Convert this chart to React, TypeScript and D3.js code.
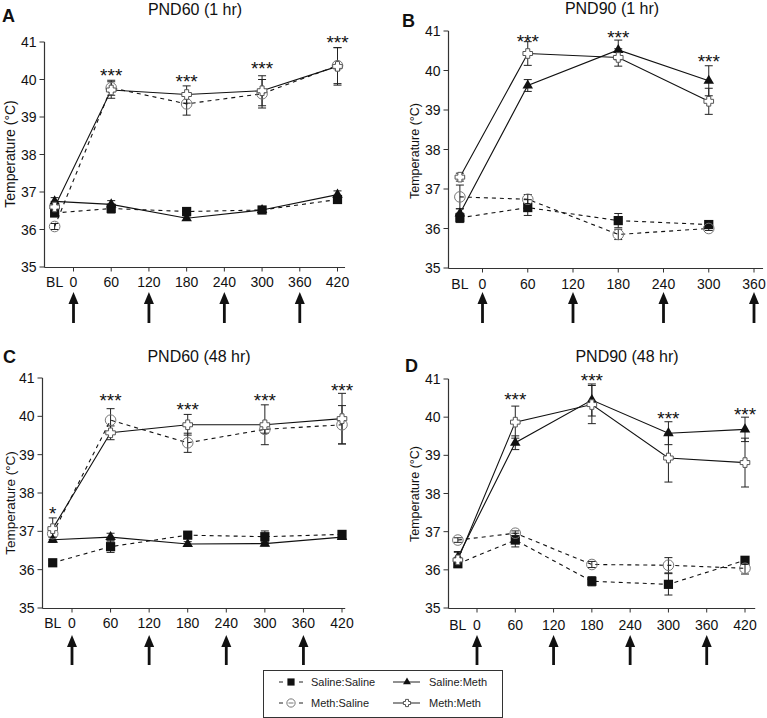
import React from 'react';
import * as d3 from 'd3';

// ---------- DATA ----------
const GROUPS = ['Saline:Saline', 'Saline:Meth', 'Meth:Saline', 'Meth:Meth'];
// time -30 stands for baseline (BL)
const TIMES_7 = [-30, 60, 180, 300, 420];
const TIMES_5 = [-30, 60, 180, 300];
const X_TICKS_420 = [0, 60, 120, 180, 240, 300, 360, 420];
const X_TICKS_360 = [0, 60, 120, 180, 240, 300, 360];
const Y_TICKS = [35, 36, 37, 38, 39, 40, 41];
const INJECTIONS = [0, 120, 240, 360];

// Panel A: PND60 (1 hr)
const A_SS = [36.44, 36.56, 36.48, 36.52, 36.8];
const A_SS_ERR = [0.08, 0.12, 0.06, 0.05, 0.08];
const A_SM = [36.75, 36.67, 36.3, 36.52, 36.93];
const A_SM_ERR = [0.1, 0.1, 0.06, 0.05, 0.1];
const A_MS = [36.08, 39.78, 39.35, 39.62, 40.37];
const A_MS_ERR = [0.08, 0.2, 0.3, 0.38, 0.48];
const A_MM = [36.6, 39.72, 39.6, 39.7, 40.35];
const A_MM_ERR = [0.15, 0.22, 0.23, 0.4, 0.5];
const A_STAR_T = [60, 180, 300, 420];
const A_STAR_V = [40.23, 40.07, 40.41, 41.1];
const A_STAR_L = ['***', '***', '***', '***'];

// Panel B: PND90 (1 hr)
const B_SS = [36.27, 36.53, 36.2, 36.1];
const B_SS_ERR = [0.12, 0.2, 0.18, 0.06];
const B_SM = [36.38, 39.62, 40.52, 39.74];
const B_SM_ERR = [0.12, 0.15, 0.25, 0.38];
const B_MS = [36.8, 36.74, 35.85, 36.0];
const B_MS_ERR = [0.3, 0.12, 0.13, 0.05];
const B_MM = [37.3, 40.43, 40.33, 39.22];
const B_MM_ERR = [0.1, 0.3, 0.22, 0.33];
const B_STAR_T = [60, 180, 300];
const B_STAR_V = [40.85, 40.95, 40.34];
const B_STAR_L = ['***', '***', '***'];

// Panel C: PND60 (48 hr)
const C_SS = [36.18, 36.6, 36.9, 36.86, 36.92];
const C_SS_ERR = [0.06, 0.15, 0.08, 0.15, 0.08];
const C_SM = [36.78, 36.85, 36.67, 36.68, 36.85];
const C_SM_ERR = [0.07, 0.1, 0.06, 0.06, 0.06];
const C_MS = [36.94, 39.9, 39.31, 39.66, 39.78];
const C_MS_ERR = [0.1, 0.3, 0.25, 0.1, 0.5];
const C_MM = [37.07, 39.57, 39.78, 39.78, 39.94];
const C_MM_ERR = [0.28, 0.18, 0.27, 0.52, 0.66];
const C_STAR_T = [-30, 60, 180, 300, 420];
const C_STAR_V = [37.59, 40.52, 40.3, 40.52, 40.8];
const C_STAR_L = ['*', '***', '***', '***', '***'];

// Panel D: PND90 (48 hr)
const D_SS = [36.16, 36.78, 35.7, 35.62, 36.25];
const D_SS_ERR = [0.08, 0.18, 0.12, 0.28, 0.08];
const D_SM = [36.33, 39.33, 40.45, 39.58, 39.68];
const D_SM_ERR = [0.15, 0.18, 0.42, 0.3, 0.32];
const D_MS = [36.78, 36.96, 36.14, 36.12, 36.04];
const D_MS_ERR = [0.06, 0.06, 0.08, 0.2, 0.15];
const D_MM = [36.26, 39.87, 40.33, 38.93, 38.81];
const D_MM_ERR = [0.2, 0.42, 0.5, 0.63, 0.64];
const D_STAR_T = [60, 180, 300, 420];
const D_STAR_V = [40.57, 41.09, 40.07, 40.2];
const D_STAR_L = ['***', '***', '***', '***'];

// ---------- STYLE ----------
const FONT = '"Liberation Sans", Arial, Helvetica, sans-serif';
const GROUP_STYLE = [
  { marker: 'square', dashed: true },
  { marker: 'triangle', dashed: false },
  { marker: 'circle', dashed: true },
  { marker: 'cross', dashed: false },
];

const panels = [
  {
    letter: 'A', title: 'PND60 (1 hr)', times: TIMES_7,
    series: [[A_SS, A_SS_ERR], [A_SM, A_SM_ERR], [A_MS, A_MS_ERR], [A_MM, A_MM_ERR]],
    stars: [A_STAR_T, A_STAR_V, A_STAR_L], xTicks: X_TICKS_420,
    L: { xd: [0, 420], xr: [73.5, 337.5], yr: [267, 42], axisX: 44.5, axisEnd: 432,
      arrowTop: 292, arrowBot: 323, title: [195, 15], letterPos: [2, 22],
      ylab: [15, 154, 14], xlabY: 287 },
  },
  {
    letter: 'B', title: 'PND90 (1 hr)', times: TIMES_5,
    series: [[B_SS, B_SS_ERR], [B_SM, B_SM_ERR], [B_MS, B_MS_ERR], [B_MM, B_MM_ERR]],
    stars: [B_STAR_T, B_STAR_V, B_STAR_L], xTicks: X_TICKS_360,
    L: { xd: [0, 360], xr: [482.5, 754], yr: [268, 31], axisX: 448.5, axisEnd: 372,
      arrowTop: 292, arrowBot: 323, title: [612, 14], letterPos: [402, 27],
      ylab: [419, 151, 12.5], xlabY: 289 },
  },
  {
    letter: 'C', title: 'PND60 (48 hr)', times: TIMES_7,
    series: [[C_SS, C_SS_ERR], [C_SM, C_SM_ERR], [C_MS, C_MS_ERR], [C_MM, C_MM_ERR]],
    stars: [C_STAR_T, C_STAR_V, C_STAR_L], xTicks: X_TICKS_420,
    L: { xd: [0, 420], xr: [72, 342], yr: [608, 378], axisX: 42.5, axisEnd: 425,
      arrowTop: 635, arrowBot: 665, title: [199, 362], letterPos: [3, 363],
      ylab: [15, 503, 13.5], xlabY: 628 },
  },
  {
    letter: 'D', title: 'PND90 (48 hr)', times: TIMES_7,
    series: [[D_SS, D_SS_ERR], [D_SM, D_SM_ERR], [D_MS, D_MS_ERR], [D_MM, D_MM_ERR]],
    stars: [D_STAR_T, D_STAR_V, D_STAR_L], xTicks: X_TICKS_420,
    L: { xd: [0, 420], xr: [477, 745], yr: [608, 379], axisX: 448.5, axisEnd: 436,
      arrowTop: 635, arrowBot: 665, title: [627, 362], letterPos: [405, 372],
      ylab: [419, 494, 12.5], xlabY: 630 },
  },
];

const crossPath = (a: number, l: number) =>
  `M${-a},${-l}H${a}V${-a}H${l}V${a}H${a}V${l}H${-a}V${a}H${-l}V${-a}H${-a}Z`;

function Marker({ type, x, y, s = 1 }: { type: string; x: number; y: number; s?: number }) {
  if (type === 'square') {
    const h = 4.6 * s;
    return <rect x={x - h} y={y - h} width={2 * h} height={2 * h} fill="#111" />;
  }
  if (type === 'triangle') {
    const p = d3.symbol().type(d3.symbolTriangle).size(48 * s * s)();
    return <path d={p || ''} transform={`translate(${x},${y})`} fill="#111" />;
  }
  if (type === 'circle') {
    return <circle cx={x} cy={y} r={5.3 * s} fill="none" stroke="#777" strokeWidth={1} />;
  }
  return (
    <path d={crossPath(2 * s, 4.8 * s)} transform={`translate(${x},${y})`}
      fill="#fff" stroke="#555" strokeWidth={1} />
  );
}

function Arrow({ x, top, bot }: { x: number; top: number; bot: number }) {
  return (
    <g>
      <line x1={x} x2={x} y1={top + 8} y2={bot} stroke="#111" strokeWidth={2.8} />
      <path d={`M${x - 5},${top + 12}L${x},${top}L${x + 5},${top + 12}Z`} fill="#111" />
    </g>
  );
}

function Panel({ p }: { p: any }) {
  const L = p.L;
  const x = d3.scaleLinear().domain(L.xd).range(L.xr);
  const y = d3.scaleLinear().domain([35, 41]).range(L.yr);
  const line = d3.line<[number, number]>().x((d) => x(d[0])).y((d) => y(d[1]));
  const axisY = L.yr[0] + 0.5;
  return (
    <g fontFamily={FONT}>
      <text x={L.letterPos[0]} y={L.letterPos[1]} fontSize={18} fontWeight="bold" fill="#111">{p.letter}</text>
      <text x={L.title[0]} y={L.title[1]} fontSize={16} textAnchor="middle" fill="#111">{p.title}</text>
      <text transform={`translate(${L.ylab[0]},${L.ylab[1]}) rotate(-90)`} fontSize={L.ylab[2]}
        textAnchor="middle" fill="#111">Temperature (°C)</text>
      {/* y axis */}
      <line x1={L.axisX} x2={L.axisX} y1={y(41)} y2={axisY} stroke="#333" strokeWidth={1.2} />
      {Y_TICKS.map((t) => (
        <g key={t}>
          <line x1={L.axisX - 5} x2={L.axisX} y1={y(t)} y2={y(t)} stroke="#333" />
          <text x={L.axisX - 8} y={y(t) + 5} fontSize={14} textAnchor="end" fill="#111">{t}</text>
        </g>
      ))}
      {/* x axis */}
      <line x1={L.axisX} x2={x(L.axisEnd)} y1={axisY} y2={axisY} stroke="#333" strokeWidth={1.2} />
      {p.xTicks.map((t: number) => (
        <g key={t}>
          <line x1={x(t)} x2={x(t)} y1={axisY} y2={axisY + 4} stroke="#333" />
          <text x={x(t)} y={L.xlabY} fontSize={14} textAnchor="middle" fill="#111">{t}</text>
        </g>
      ))}
      <text x={x(-30)} y={L.xlabY} fontSize={14} textAnchor="middle" fill="#111">BL</text>
      {INJECTIONS.map((t) => <Arrow key={t} x={x(t)} top={L.arrowTop} bot={L.arrowBot} />)}
      {/* lines */}
      {p.series.map((s: number[][], gi: number) => (
        <path key={'l' + gi}
          d={line(p.times.map((t: number, i: number) => [t, s[0][i]] as [number, number])) || ''}
          fill="none" stroke="#111" strokeWidth={1.1}
          strokeDasharray={GROUP_STYLE[gi].dashed ? '4,4' : undefined} />
      ))}
      {/* error bars */}
      {p.series.map((s: number[][], gi: number) =>
        p.times.map((t: number, i: number) => {
          const cx = x(t);
          const lo = y(s[0][i] - s[1][i]);
          const hi = y(s[0][i] + s[1][i]);
          return (
            <g key={'e' + gi + '-' + i} stroke="#222" strokeWidth={1}>
              <line x1={cx} x2={cx} y1={lo} y2={hi} />
              <line x1={cx - 4} x2={cx + 4} y1={lo} y2={lo} />
              <line x1={cx - 4} x2={cx + 4} y1={hi} y2={hi} />
            </g>
          );
        })
      )}
      {/* markers */}
      {p.series.map((s: number[][], gi: number) =>
        p.times.map((t: number, i: number) => (
          <Marker key={'m' + gi + '-' + i} type={GROUP_STYLE[gi].marker} x={x(t)} y={y(s[0][i])} />
        ))
      )}
      {/* significance */}
      {p.stars[0].map((t: number, i: number) => (
        <text key={'s' + i} x={x(t)} y={y(p.stars[1][i]) + 11} fontSize={19}
          textAnchor="middle" fill="#111">{p.stars[2][i]}</text>
      ))}
    </g>
  );
}

function Legend() {
  const bx = 263, by = 670, bw = 239, bh = 47;
  const rows = [682, 703];
  return (
    <g fontFamily={FONT} fontSize={11} fill="#222">
      <rect x={bx + 0.5} y={by + 0.5} width={bw} height={bh} fill="#fff" stroke="#333" strokeWidth={1} />
      {[0, 2].map((gi, r) => (
        <g key={gi}>
          <line x1={279} x2={283} y1={rows[r]} y2={rows[r]} stroke="#222" />
          <line x1={299} x2={303} y1={rows[r]} y2={rows[r]} stroke="#222" />
          <Marker type={GROUP_STYLE[gi].marker} x={291} y={rows[r]} s={0.78} />
          {gi === 2 && <line x1={288.5} x2={293.5} y1={rows[r]} y2={rows[r]} stroke="#777" />}
          <text x={311} y={rows[r] + 4}>{GROUPS[gi]}</text>
        </g>
      ))}
      {[1, 3].map((gi, r) => (
        <g key={gi}>
          <line x1={393} x2={420} y1={rows[r]} y2={rows[r]} stroke="#222" />
          <Marker type={GROUP_STYLE[gi].marker} x={407} y={rows[r]} s={0.75} />
          <text x={429} y={rows[r] + 4}>{GROUPS[gi]}</text>
        </g>
      ))}
    </g>
  );
}

export default function App() {
  return (
    <svg width={767} height={718} style={{ position: 'absolute', left: 0, top: 0, background: '#fff' }}>
      <rect width={767} height={718} fill="#fff" />
      {panels.map((p) => <Panel key={p.letter} p={p} />)}
      <Legend />
    </svg>
  );
}
